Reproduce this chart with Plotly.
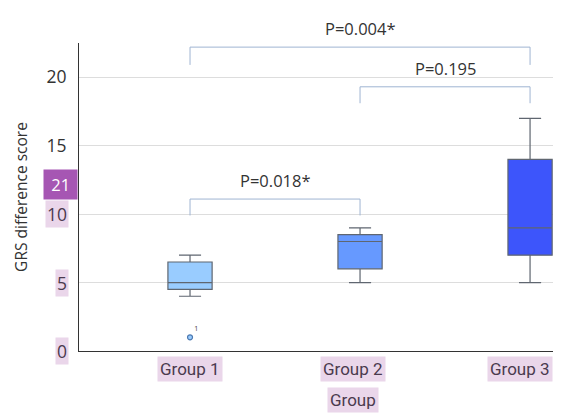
import plotly.graph_objects as go

groups = ["Group 1", "Group 2", "Group 3"]
group_pos = [0, 1, 2]
lower_whisker = [4, 5, 5]
q1 = [4.5, 6, 7]
median = [5, 8, 9]
q3 = [6.5, 8.5, 14]
upper_whisker = [7, 9, 17]
fill_colors = ["#99ccff", "#6699ff", "#3d55fb"]

outlier_group = [0]
outlier_value = [1]
outlier_label = ["1"]

# comparisons: (from group, to group, bracket top, leg bottom, label)
comp_from = [0, 1, 0]
comp_to = [1, 2, 2]
comp_top = [11.1, 19.3, 22.2]
comp_leg = [9.9, 18.1, 20.9]
comp_text = ["P=0.018*", "P=0.195", "P=0.004*"]

y_ticks = [0, 5, 10, 15, 20]
highlight_y = [0, 5, 10]

FONT = "Open Sans"
XFONT = "Roboto"
TXT = "#333333"
HL_BG = "#ead6ea"
HL_TXT = "#4a3a4e"
label_xshift = [0, -7, -10]

fig = go.Figure()
for i, g in enumerate(groups):
    fig.add_trace(go.Box(
        x=[group_pos[i]], q1=[q1[i]], median=[median[i]], q3=[q3[i]],
        lowerfence=[lower_whisker[i]], upperfence=[upper_whisker[i]],
        width=0.26, whiskerwidth=0.5,
        fillcolor=fill_colors[i],
        line=dict(color="#5f6670", width=1.2),
        boxpoints=False, showlegend=False, name=g,
    ))

fig.add_trace(go.Scatter(
    x=[group_pos[j] for j in outlier_group], y=outlier_value,
    mode="markers+text", text=outlier_label, textposition="top right",
    textfont=dict(size=7, color="#444", family=FONT),
    marker=dict(size=5, color="#99ccff", line=dict(color="#4d79b0", width=1.2)),
    showlegend=False, cliponaxis=False,
))

shapes = []
annotations = []
for a, b, top, leg, txt in zip(comp_from, comp_to, comp_top, comp_leg, comp_text):
    shapes.append(dict(
        type="path", xref="x", yref="y",
        path=f"M {group_pos[a]},{leg} L {group_pos[a]},{top} L {group_pos[b]},{top} L {group_pos[b]},{leg}",
        line=dict(color="#9fb4d2", width=1), layer="above",
    ))
    annotations.append(dict(
        x=(group_pos[a] + group_pos[b]) / 2, y=top, xref="x", yref="y",
        text=txt, showarrow=False, yanchor="bottom", yshift=5,
        font=dict(family=FONT, size=16.5, color=TXT),
    ))

# highlighted y tick labels
for v in highlight_y:
    annotations.append(dict(
        x=0, y=v, xref="paper", yref="y", xanchor="right", yanchor="middle",
        xshift=-10, text=str(v), showarrow=False, bgcolor=HL_BG, borderpad=1,
        font=dict(family=FONT, size=17.5, color=HL_TXT),
    ))

# highlighted x tick labels
for i, g in enumerate(groups):
    annotations.append(dict(
        x=group_pos[i], y=0, xref="x", yref="paper", yanchor="top",
        xshift=label_xshift[i], yshift=-5, text=g, showarrow=False,
        bgcolor=HL_BG, borderpad=2,
        font=dict(family=XFONT, size=17, color=HL_TXT),
    ))
annotations.append(dict(
    x=1, y=0, xref="x", yref="paper", yanchor="top", xshift=-7, yshift=-36,
    text="Group", showarrow=False, bgcolor=HL_BG, borderpad=2,
    font=dict(family=XFONT, size=17, color=HL_TXT),
))
# badge
annotations.append(dict(
    x=0, y=12.2, xref="paper", yref="y", xanchor="right", yanchor="middle",
    xshift=-1, text=" 21 ", showarrow=False, bgcolor="#a656b3", borderpad=3,
    font=dict(family=FONT, size=16.5, color="white"),
))

# page body has an 8px margin; size the figure so it fills the 561x413 window
fig.update_layout(
    width=553, height=405,
    margin=dict(l=71, r=0, t=35, b=62, autoexpand=False),
    paper_bgcolor="white", plot_bgcolor="white",
    font=dict(family=FONT, size=17, color=TXT),
    shapes=shapes, annotations=annotations,
    xaxis=dict(
        range=[-0.653, 2.182], tickvals=group_pos, showticklabels=False,
        showgrid=False, zeroline=False, showline=True, linecolor="#333", linewidth=1.2,
        ticks="", automargin=False,
    ),
    yaxis=dict(
        range=[0, 22.5], tickvals=y_ticks,
        ticktext=["" if v in highlight_y else str(v) for v in y_ticks],
        showgrid=True, gridcolor="#dddddd", gridwidth=1.2,
        zeroline=False, showline=True, linecolor="#333", linewidth=1.2,
        ticks="", ticklabelstandoff=8, automargin=False,
        tickfont=dict(family=FONT, size=17.5, color=TXT),
        title=dict(text="GRS difference score", standoff=14,
                   font=dict(family=FONT, size=15.5, color=TXT)),
    ),
)

fig.write_html("out.html")
